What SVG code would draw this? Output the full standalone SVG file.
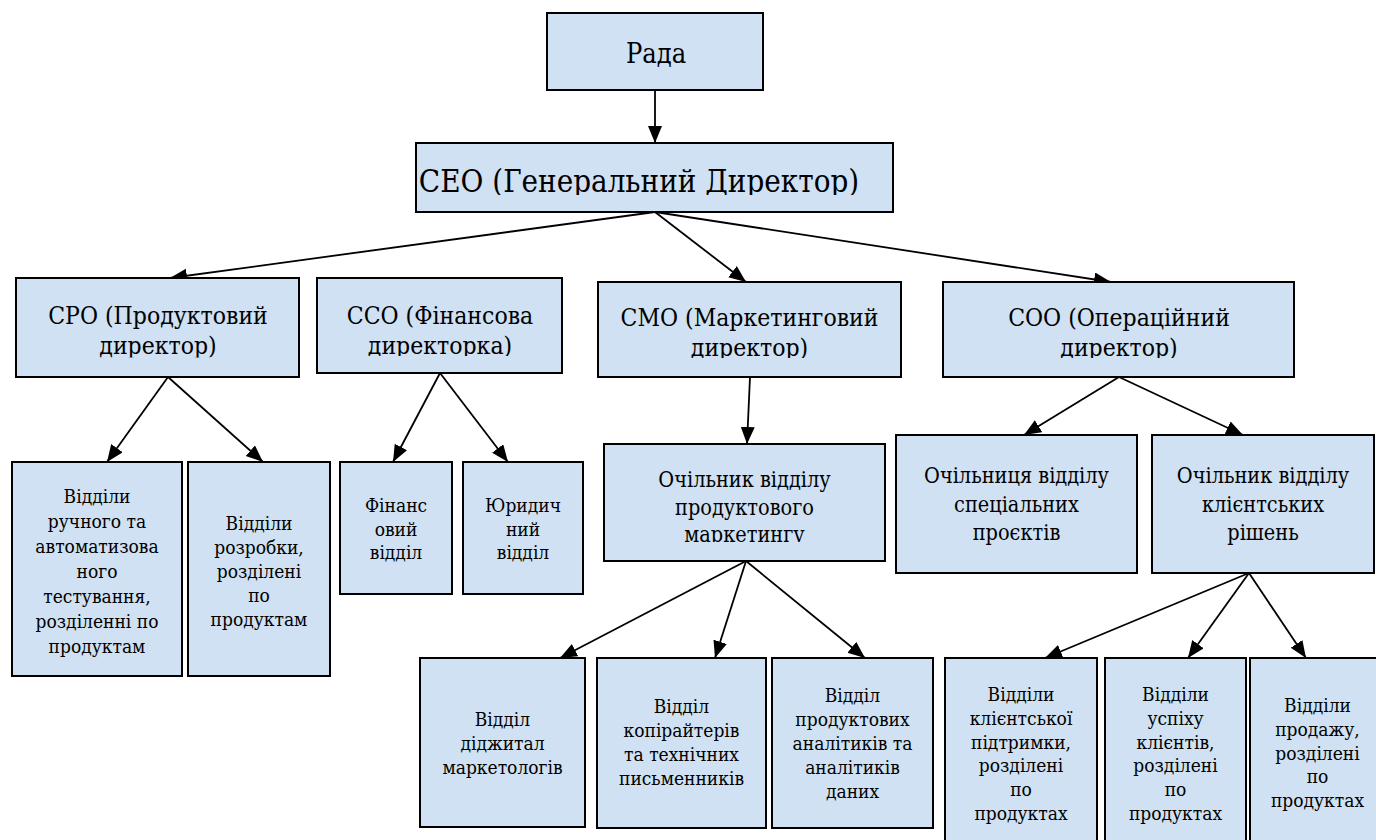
<svg xmlns="http://www.w3.org/2000/svg" width="1376" height="840" viewBox="0 0 1376 840">
<style>
.box{fill:#CFE1F2;stroke:#000;stroke-width:2}
.tx{font-family:'DejaVu Serif',serif;font-stretch:condensed;fill:#000;text-anchor:middle}
.t29{font-size:27px}
.t33{font-size:31px}
.t27{font-size:24.5px}
.t23{font-size:21.5px}
.t21{font-size:19px}
.conn line{stroke:#000;stroke-width:1.8;marker-end:url(#arr)}
</style>
<defs>
<marker id="arr" markerUnits="userSpaceOnUse" markerWidth="18" markerHeight="15" refX="17" refY="7" orient="auto">
<path d="M0,0 L17,7 L0,14 z" fill="#000"/>
</marker>
<clipPath id="cCeo"><rect x="416" y="143" width="477" height="52"/></clipPath>
<clipPath id="cCpo"><rect x="16" y="278" width="283" height="79.5"/></clipPath>
<clipPath id="cCco"><rect x="317" y="278" width="245" height="78"/></clipPath>
<clipPath id="cCmo"><rect x="598" y="282" width="303" height="76"/></clipPath>
<clipPath id="cCoo"><rect x="943" y="282" width="351" height="76"/></clipPath>
<clipPath id="cMkt"><rect x="604" y="444" width="281" height="98"/></clipPath>
</defs>

<g id="connectors" class="conn">
<line x1="655" y1="90" x2="655" y2="143"/>
<line x1="655" y1="212" x2="170" y2="278"/>
<line x1="655" y1="212" x2="746" y2="282"/>
<line x1="655" y1="212" x2="1111" y2="282"/>
<line x1="168" y1="377" x2="107" y2="462"/>
<line x1="168" y1="377" x2="263" y2="462"/>
<line x1="440" y1="373" x2="393" y2="462"/>
<line x1="440" y1="373" x2="508" y2="462"/>
<line x1="750" y1="377" x2="747" y2="444"/>
<line x1="1119" y1="377" x2="1024" y2="435"/>
<line x1="1119" y1="377" x2="1243" y2="435"/>
<line x1="746" y1="561" x2="560" y2="658"/>
<line x1="746" y1="561" x2="715" y2="658"/>
<line x1="746" y1="561" x2="865" y2="658"/>
<line x1="1249" y1="573" x2="1045" y2="658"/>
<line x1="1249" y1="573" x2="1188" y2="658"/>
<line x1="1249" y1="573" x2="1306" y2="658"/>
</g>

<g id="rada">
<rect class="box" x="547" y="13" width="216" height="77"/>
<text class="tx t29" x="656" y="63">Рада</text>
</g>

<g id="ceo">
<rect class="box" x="416" y="143" width="477" height="69"/>
<text class="tx t33" x="639" y="191.5" clip-path="url(#cCeo)">СЕО (Генеральний Директор)</text>
</g>

<g id="cpo">
<rect class="box" x="16" y="278" width="283" height="99"/>
<g clip-path="url(#cCpo)">
<text class="tx t27" x="158" y="323.5">СРО (Продуктовий</text>
<text class="tx t27" x="158" y="354">директор)</text>
</g>
</g>

<g id="cco">
<rect class="box" x="317" y="278" width="245" height="95"/>
<g clip-path="url(#cCco)">
<text class="tx t27" x="440" y="323.5">ССО (Фінансова</text>
<text class="tx t27" x="440" y="353.5">директорка)</text>
</g>
</g>

<g id="cmo">
<rect class="box" x="598" y="282" width="303" height="95"/>
<g clip-path="url(#cCmo)">
<text class="tx t27" x="749.5" y="325.5">СМО (Маркетинговий</text>
<text class="tx t27" x="749.5" y="355.5">директор)</text>
</g>
</g>

<g id="coo">
<rect class="box" x="943" y="282" width="351" height="95"/>
<g clip-path="url(#cCoo)">
<text class="tx t27" x="1119" y="325.5">СОО (Операційний</text>
<text class="tx t27" x="1119" y="355.5">директор)</text>
</g>
</g>

<g id="cpo-testing">
<rect class="box" x="12" y="462" width="170" height="214"/>
<text class="tx t21" x="97" y="503">Відділи</text>
<text class="tx t21" x="97" y="528">ручного та</text>
<text class="tx t21" x="97" y="553">автоматизова</text>
<text class="tx t21" x="97" y="578">ного</text>
<text class="tx t21" x="97" y="603">тестування,</text>
<text class="tx t21" x="97" y="628">розділенні по</text>
<text class="tx t21" x="97" y="653">продуктам</text>
</g>

<g id="cpo-dev">
<rect class="box" x="188" y="462" width="142" height="214"/>
<text class="tx t21" x="259" y="530">Відділи</text>
<text class="tx t21" x="259" y="554">розробки,</text>
<text class="tx t21" x="259" y="578">розділені</text>
<text class="tx t21" x="259" y="602">по</text>
<text class="tx t21" x="259" y="626">продуктам</text>
</g>

<g id="cco-finance">
<rect class="box" x="340" y="462" width="112" height="132"/>
<text class="tx t21" x="396" y="512">Фінанс</text>
<text class="tx t21" x="396" y="535.5">овий</text>
<text class="tx t21" x="396" y="559">відділ</text>
</g>

<g id="cco-legal">
<rect class="box" x="463" y="462" width="120" height="132"/>
<text class="tx t21" x="523" y="512">Юридич</text>
<text class="tx t21" x="523" y="535.5">ний</text>
<text class="tx t21" x="523" y="559">відділ</text>
</g>

<g id="mkt-lead">
<rect class="box" x="604" y="444" width="281" height="117"/>
<g clip-path="url(#cMkt)">
<text class="tx t23" x="744.5" y="487">Очільник відділу</text>
<text class="tx t23" x="744.5" y="514.5">продуктового</text>
<text class="tx t23" x="744.5" y="542">маркетингу</text>
</g>
</g>

<g id="special-lead">
<rect class="box" x="896" y="435" width="241" height="138"/>
<text class="tx t23" x="1016.5" y="483">Очільниця відділу</text>
<text class="tx t23" x="1016.5" y="511.5">спеціальних</text>
<text class="tx t23" x="1016.5" y="540">проєктів</text>
</g>

<g id="client-lead">
<rect class="box" x="1152" y="435" width="222" height="138"/>
<text class="tx t23" x="1263" y="483">Очільник відділу</text>
<text class="tx t23" x="1263" y="511.5">клієнтських</text>
<text class="tx t23" x="1263" y="540">рішень</text>
</g>

<g id="digital">
<rect class="box" x="420" y="658" width="165" height="169"/>
<text class="tx t21" x="502.5" y="726">Відділ</text>
<text class="tx t21" x="502.5" y="750">діджитал</text>
<text class="tx t21" x="502.5" y="774">маркетологів</text>
</g>

<g id="copywriters">
<rect class="box" x="597" y="658" width="169" height="170"/>
<text class="tx t21" x="681.5" y="713">Відділ</text>
<text class="tx t21" x="681.5" y="737">копірайтерів</text>
<text class="tx t21" x="681.5" y="761">та технічних</text>
<text class="tx t21" x="681.5" y="785">письменників</text>
</g>

<g id="analysts">
<rect class="box" x="772" y="658" width="161" height="170"/>
<text class="tx t21" x="852.5" y="702">Відділ</text>
<text class="tx t21" x="852.5" y="726">продуктових</text>
<text class="tx t21" x="852.5" y="750">аналітиків та</text>
<text class="tx t21" x="852.5" y="774">аналітиків</text>
<text class="tx t21" x="852.5" y="798">даних</text>
</g>

<g id="support">
<rect class="box" x="945" y="658" width="152" height="192"/>
<text class="tx t21" x="1021" y="701">Відділи</text>
<text class="tx t21" x="1021" y="724.8">клієнтської</text>
<text class="tx t21" x="1021" y="748.6">підтримки,</text>
<text class="tx t21" x="1021" y="772.4">розділені</text>
<text class="tx t21" x="1021" y="796.2">по</text>
<text class="tx t21" x="1021" y="820">продуктах</text>
</g>

<g id="success">
<rect class="box" x="1105" y="658" width="141" height="192"/>
<text class="tx t21" x="1175.5" y="701">Відділи</text>
<text class="tx t21" x="1175.5" y="724.8">успіху</text>
<text class="tx t21" x="1175.5" y="748.6">клієнтів,</text>
<text class="tx t21" x="1175.5" y="772.4">розділені</text>
<text class="tx t21" x="1175.5" y="796.2">по</text>
<text class="tx t21" x="1175.5" y="820">продуктах</text>
</g>

<g id="sales">
<rect class="box" x="1250" y="658" width="136" height="192"/>
<text class="tx t21" x="1317.5" y="712">Відділи</text>
<text class="tx t21" x="1317.5" y="735.75">продажу,</text>
<text class="tx t21" x="1317.5" y="759.5">розділені</text>
<text class="tx t21" x="1317.5" y="783.25">по</text>
<text class="tx t21" x="1317.5" y="807">продуктах</text>
</g>
</svg>
